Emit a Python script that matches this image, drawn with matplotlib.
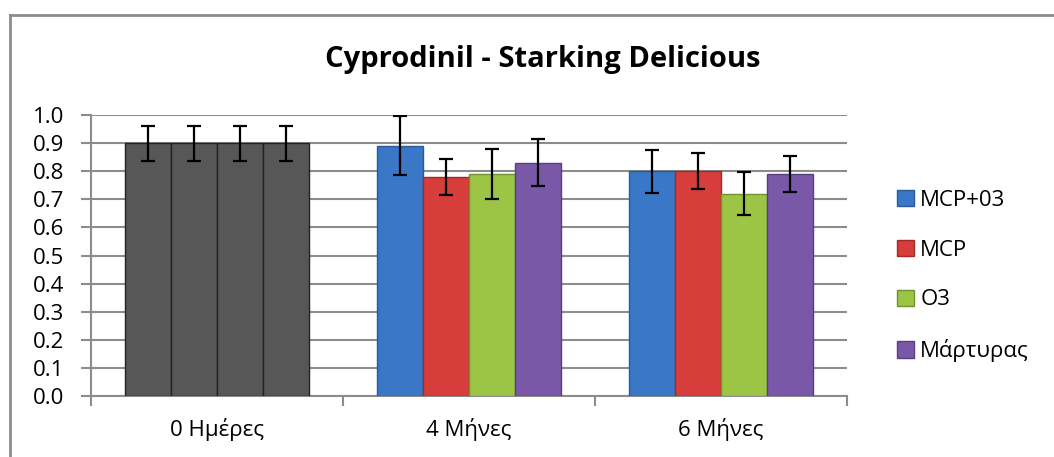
import matplotlib
matplotlib.use("Agg")
import matplotlib.pyplot as plt
import numpy as np
from matplotlib.lines import Line2D

plt.rcParams['font.family'] = ['Open Sans', 'DejaVu Sans']

# data
categories = ['0 Ημέρες', '4 Μήνες', '6 Μήνες']
series = ['MCP+03', 'MCP', 'O3', 'Μάρτυρας']
mcp_o3 = [0.90, 0.89, 0.80]
mcp = [0.90, 0.78, 0.80]
o3 = [0.90, 0.79, 0.72]
control = [0.90, 0.83, 0.79]
mcp_o3_err = [0.062, 0.105, 0.077]
mcp_err = [0.062, 0.064, 0.065]
o3_err = [0.062, 0.090, 0.077]
control_err = [0.062, 0.083, 0.063]

colors = ['#3a77c6', '#d63d3b', '#9cc545', '#7a58a8']
edges = ['#2a5a96', '#a02a28', '#6f9230', '#57407a']
gray = '#575757'

fig = plt.figure(figsize=(10.54, 4.57), dpi=100)
# chart frame (only top/left visible in the reference)
fig.add_artist(Line2D([10/1054, 1.0], [1 - 15/457] * 2, color='#8c8c8c', lw=2))
fig.add_artist(Line2D([10/1054] * 2, [0.0, 1 - 15/457], color='#8c8c8c', lw=2))

ax = fig.add_axes([91/1054, 1 - 396/457, 756/1054, 281/457])

x = np.arange(len(categories))
n = len(series)
bw = 0.73 / n
values = [mcp_o3, mcp, o3, control]
errs = [mcp_o3_err, mcp_err, o3_err, control_err]

for i, (vals, err) in enumerate(zip(values, errs)):
    pos = x - 0.73 / 2 + bw * (i + 0.5)
    fc = [gray] + [colors[i]] * (len(categories) - 1)
    ec = ['#222222'] + [edges[i]] * (len(categories) - 1)
    ax.bar(pos, vals, width=bw, color=fc, edgecolor=ec, linewidth=1.0, zorder=3)
    ax.errorbar(pos, vals, yerr=err, fmt='none', ecolor='black', elinewidth=1.6,
                capsize=5, capthick=1.6, zorder=4)

ax.set_ylim(0, 1.0)
ax.set_yticks(np.arange(0, 1.01, 0.1))
ax.set_yticklabels([f'{v:.1f}' for v in np.arange(0, 1.01, 0.1)], fontsize=16)
ax.set_xlim(-0.5, 2.5)
ax.set_xticks(x)
ax.set_xticklabels(categories, fontsize=16)
ax.tick_params(axis='x', length=0, pad=16)
ax.set_xticks(np.arange(-0.5, 2.6, 1.0), minor=True)
ax.tick_params(axis='x', which='minor', length=7, color='#8c8c8c', width=1.5)
ax.tick_params(axis='y', length=7, color='#8c8c8c', width=1.5, pad=12)
ax.grid(axis='y', color='#8c8c8c', lw=1.5, zorder=0)
for s in ['top', 'right']:
    ax.spines[s].set_visible(False)
for s in ['left', 'bottom']:
    ax.spines[s].set_color('#8c8c8c')
    ax.spines[s].set_linewidth(1.5)

fig.text(543/1054, 1 - 60/457, 'Cyprodinil - Starking Delicious', fontsize=21,
         fontweight='bold', ha='center', va='center')

handles = [plt.Rectangle((0, 0), 1, 1, facecolor=c, edgecolor=e, lw=1.0)
           for c, e in zip(colors, edges)]
fig.legend(handles, series, loc='center left', bbox_to_anchor=(888/1054, 1 - 276/457),
           frameon=False, fontsize=16, handlelength=0.75, handleheight=0.75,
           handletextpad=0.3, labelspacing=1.3, borderaxespad=0)

fig.savefig('out.png', dpi=100)
